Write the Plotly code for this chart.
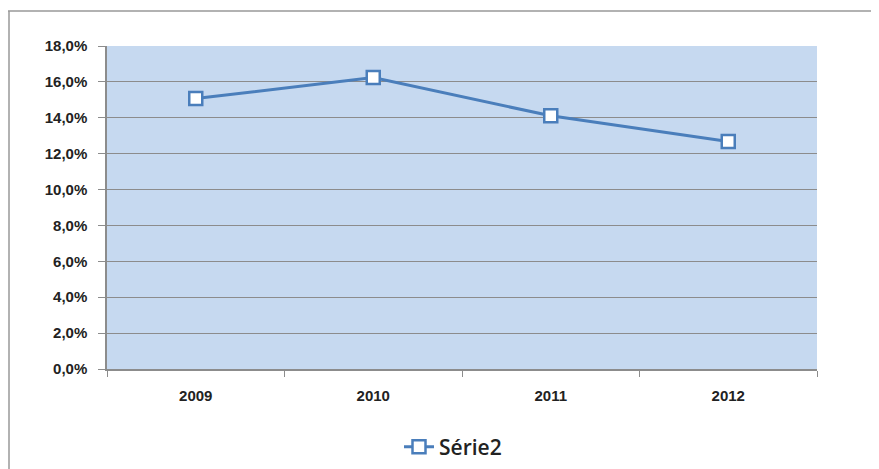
import plotly.graph_objects as go

years = ["2009", "2010", "2011", "2012"]
serie2 = [0.1507, 0.1624, 0.1411, 0.1268]
y_ticks = [0, 0.02, 0.04, 0.06, 0.08, 0.10, 0.12, 0.14, 0.16, 0.18]
y_labels = ["0,0%", "2,0%", "4,0%", "6,0%", "8,0%", "10,0%", "12,0%", "14,0%", "16,0%", "18,0%"]

fig = go.Figure()
fig.add_trace(go.Scatter(
    x=years, y=serie2, name="Série2", mode="lines+markers",
    line=dict(color="#4A7EBB", width=3),
    marker=dict(symbol="square", size=13, color="white", line=dict(color="#4A7EBB", width=2.5)),
))

# page has an 8px body margin; figure origin is at page (8, 8)
OFF = 8
W, H = 879 - OFF, 469 - OFF
L, R, T, B = 107 - OFF, 62, 46 - OFF, 100
pw, ph = W - L - R, H - T - B

fig.update_layout(
    width=W, height=H,
    margin=dict(l=L, r=R, t=T, b=B, autoexpand=False),
    paper_bgcolor="white",
    plot_bgcolor="#C6D9F0",
    font=dict(family="Liberation Sans, Arial, sans-serif", color="#222222"),
    showlegend=True,
    legend=dict(orientation="h", xref="container", x=(453 - OFF) / W, xanchor="center",
                yref="container", y=1 - (447 - OFF) / H, yanchor="middle",
                font=dict(size=21, family="Open Sans, sans-serif", color="#222222", weight=600),
                bgcolor="rgba(0,0,0,0)"),
    xaxis=dict(type="category", range=[-0.5, 3.5], showgrid=False, automargin=False,
               showline=True, linecolor="#8C8C8C", linewidth=1.5,
               ticks="outside", tickson="boundaries", ticklen=6, tickcolor="#8C8C8C",
               ticklabelstandoff=12,
               tickfont=dict(size=15, family="Liberation Sans", weight="bold"), fixedrange=True),
    yaxis=dict(range=[0, 0.18], tickvals=y_ticks, ticktext=y_labels, automargin=False,
               showgrid=True, gridcolor="#8C8C8C", gridwidth=1, zeroline=False,
               showline=True, linecolor="#8C8C8C", linewidth=1.5,
               ticks="outside", ticklen=7, tickcolor="#8C8C8C",
               ticklabelstandoff=8,
               tickfont=dict(size=15, family="Liberation Sans", weight="bold")),
)

# outer chart border (top and left)
x_left = (8 - 107) / pw
y_top = 1 + (46 - 11) / ph
fig.add_shape(type="line", xref="paper", yref="paper", x0=x_left, x1=(W + 20 - L) / pw,
              y0=y_top, y1=y_top, line=dict(color="#999999", width=1.5))
fig.add_shape(type="line", xref="paper", yref="paper", x0=x_left + 1.0 / pw, x1=x_left + 1.0 / pw,
              y0=y_top, y1=-(H + 20 - (T + ph)) / ph, line=dict(color="#999999", width=1.5))

fig.write_html("out.html")
